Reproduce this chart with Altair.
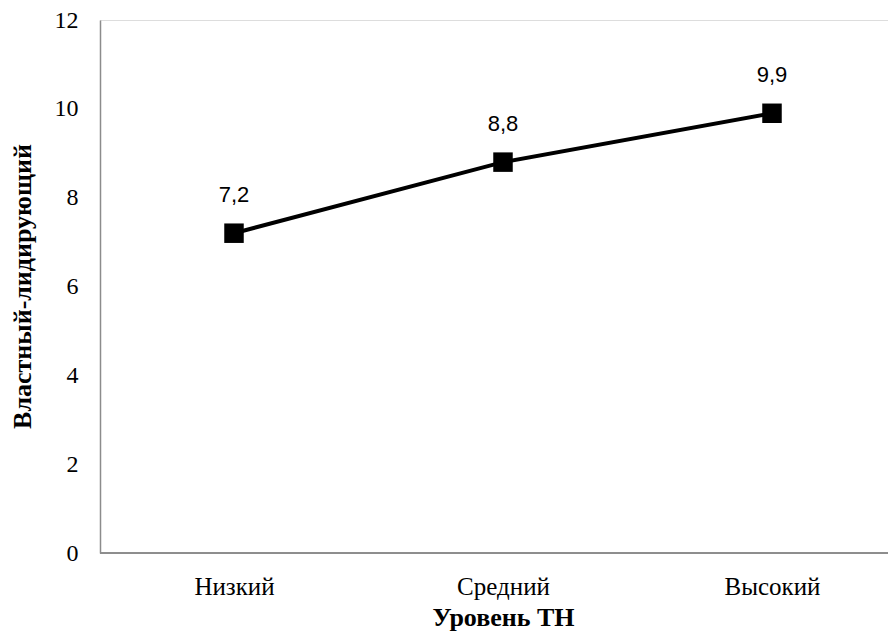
import altair as alt
import pandas as pd

categories = ["Низкий", "Средний", "Высокий"]
values = [7.2, 8.8, 9.9]
labels = ["7,2", "8,8", "9,9"]
y_ticks = [0, 2, 4, 6, 8, 10, 12]

df = pd.DataFrame({"cat": categories, "val": values, "lab": labels})

W = 788
H = 533

x_enc = alt.X("cat:N", sort=categories,
              scale=alt.Scale(type="point", range=[134, 672], padding=0),
              axis=alt.Axis(title="Уровень ТН", labelAngle=0, ticks=False, grid=False, domain=False,
                            labelFont="Liberation Serif", labelFontSize=25, labelColor="#000",
                            labelPadding=21,
                            titleFont="Liberation Serif", titleFontSize=26, titleFontWeight="bold",
                            titleColor="#000", titleY=72, titleBaseline="alphabetic"))
y_enc = alt.Y("val:Q", scale=alt.Scale(domain=[0, 12], nice=False),
              axis=alt.Axis(title="Властный-лидирующий", values=y_ticks, ticks=False, grid=False,
                            domainColor="#8c8c8c", domainWidth=1.5,
                            labelFont="Liberation Serif", labelFontSize=24, labelColor="#000",
                            labelPadding=22,
                            titleFont="Liberation Serif", titleFontSize=26, titleFontWeight="bold",
                            titleColor="#000", titleX=-65, titleY=266))

base = alt.Chart(df).encode(x=x_enc, y=y_enc)

xaxis_line = alt.Chart(df).mark_rule(color="#8c8c8c", strokeWidth=1.5).encode(
    y=alt.datum(0), x=alt.value(0), x2=alt.value(W))
line = base.mark_line(color="#000", strokeWidth=4)
pts = base.mark_point(shape="square", filled=True, size=380, color="#000", opacity=1)
txt = base.mark_text(dy=-38, font="Liberation Sans", fontSize=22, color="#000").encode(text="lab:N")

chart = (xaxis_line + line + pts + txt).properties(
    width=W, height=H,
    autosize=alt.AutoSizeParams(type="none"),
    padding={"left": 92, "top": 12, "right": 0, "bottom": 78},
).configure_view(stroke=None).configure(background="white")

chart.save("out.html", embed_options={"renderer": "svg", "actions": False})
